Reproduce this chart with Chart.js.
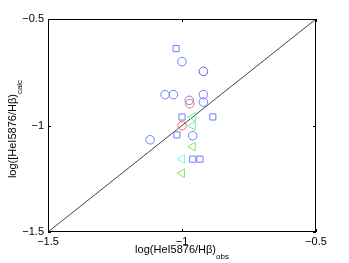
<!DOCTYPE html>
<html>
<head>
<meta charset="utf-8">
<script src="https://cdn.jsdelivr.net/npm/chart.js@4"></script>
<style>
  html, body { margin: 0; padding: 0; background: #fff; }
  #wrap { width: 349px; height: 263px; position: relative; }
</style>
</head>
<body>
<div id="wrap"><canvas id="chart" width="349" height="263"></canvas></div>
<script>
// ── Data ────────────────────────────────────────────────────────
const tickValues   = [-1.5, -1, -0.5];
const tickLabels   = ['\u22121.5', '\u22121', '\u22120.5'];
const diagonal     = [[-1.5, -1.5], [-0.5, -0.5]];

const circlesBlue   = [[-1.00, -0.700], [-1.063, -0.855], [-1.032, -0.855], [-0.920, -0.855],
                       [-0.920, -0.890], [-0.973, -0.882], [-0.960, -1.048], [-1.119, -1.067]];
const circlesPurple = [[-0.920, -0.746]];
const circlesRed    = [[-0.971, -0.898], [-1.000, -1.001]];
const squaresBlue   = [[-1.022, -0.639], [-1.000, -0.960], [-0.885, -0.960], [-1.019, -1.044],
                       [-0.960, -1.158], [-0.933, -1.158]];
const trianglesMint  = [[-0.960, -0.960], [-0.960, -1.001]];
const trianglesGreen = [[-0.960, -1.099], [-1.000, -1.224]];
const trianglesCyan  = [[-1.000, -1.158]];

const xTitle = 'log(HeI5876/H\u03b2)', xSub = 'obs';
const yTitle = 'log([HeI5876/H\u03b2)', ySub = 'calc';

const font = '"Liberation Sans", Arial, Helvetica, sans-serif';
const toPts = arr => arr.map(([x, y]) => ({ x, y }));

function marker(label, data, style, color, radius, rotation) {
    return {
        type: 'scatter',
        label,
        data: toPts(data),
        pointStyle: style,
        pointRadius: radius,
        pointRotation: rotation || 0,
        pointBorderColor: color,
        pointBackgroundColor: 'rgba(0,0,0,0)',
        pointBorderWidth: 1,
        showLine: false,
    };
}

// ── Box, inward ticks, axis titles ──────────────────────────────
const frame = {
    id: 'frame',
    afterDraw(chart) {
        const { ctx, chartArea: a, scales } = chart;
        ctx.save();
        ctx.strokeStyle = '#000';
        ctx.lineWidth = 1;
        ctx.strokeRect(a.left + 0.5, a.top + 0.5, a.right - a.left - 1, a.bottom - a.top - 1);
        ctx.beginPath();
        tickValues.forEach(v => {
            const px = Math.round(scales.x.getPixelForValue(v)) + 0.5;
            ctx.moveTo(px, a.bottom); ctx.lineTo(px, a.bottom - 3);
            ctx.moveTo(px, a.top);    ctx.lineTo(px, a.top + 3);
            const py = Math.round(scales.y.getPixelForValue(v)) + 0.5;
            ctx.moveTo(a.left, py);  ctx.lineTo(a.left + 3, py);
            ctx.moveTo(a.right, py); ctx.lineTo(a.right - 3, py);
        });
        ctx.stroke();

        ctx.fillStyle = '#000';
        ctx.textBaseline = 'alphabetic';
        // x title
        ctx.font = '11px ' + font;
        const w1 = ctx.measureText(xTitle).width;
        ctx.font = '8px ' + font;
        const w2 = ctx.measureText(xSub).width;
        let x0 = (a.left + a.right) / 2 - (w1 + w2) / 2;
        ctx.font = '11px ' + font;
        ctx.fillText(xTitle, x0, 253);
        ctx.font = '8px ' + font;
        ctx.fillText(xSub, x0 + w1, 259);
        // y title
        ctx.translate(16, 129);
        ctx.rotate(-Math.PI / 2);
        ctx.font = '11px ' + font;
        const v1 = ctx.measureText(yTitle).width;
        ctx.font = '8px ' + font;
        const v2 = ctx.measureText(ySub).width;
        const y0 = -(v1 + v2) / 2;
        ctx.font = '11px ' + font;
        ctx.fillText(yTitle, y0, 0);
        ctx.font = '8px ' + font;
        ctx.fillText(ySub, y0 + v1, 6);
        ctx.restore();
    }
};

const axisBase = {
    type: 'linear',
    min: -1.5,
    max: -0.5,
    grid: { display: false, drawTicks: false },
    border: { display: false },
    afterBuildTicks: s => { s.ticks = tickValues.map(v => ({ value: v })); },
};

new Chart(document.getElementById('chart'), {
    type: 'scatter',
    data: {
        datasets: [
            marker('red', circlesRed, 'circle', '#ff6a6a', 4.3),
            marker('purple', circlesPurple, 'circle', '#7358d8', 4.3),
            marker('blue', circlesBlue, 'circle', '#6f7dff', 4.3),
            marker('sq', squaresBlue, 'rect', '#6f7dff', 4.3),
            marker('mint', trianglesMint, 'triangle', '#6cf0a8', 5, -90),
            marker('green', trianglesGreen, 'triangle', '#8ee65a', 5, -90),
            marker('cyan', trianglesCyan, 'triangle', '#8cf5e6', 5, -90),
            {
                type: 'line',
                label: 'diag',
                data: toPts(diagonal),
                borderColor: '#444',
                borderWidth: 1,
                pointRadius: 0,
                fill: false,
            },
        ]
    },
    options: {
        responsive: false,
        animation: false,
        devicePixelRatio: 1,
        layout: { padding: { left: 0, top: 19, right: 33, bottom: 0 } },
        plugins: { legend: { display: false }, tooltip: { enabled: false } },
        scales: {
            x: {
                ...axisBase,
                position: 'bottom',
                ticks: { padding: 3, color: '#000', font: { size: 11, family: font }, maxRotation: 0,
                         autoSkip: false, callback: (v, i) => tickLabels[i] },
                afterFit: s => { s.height = 31; },
            },
            y: {
                ...axisBase,
                position: 'left',
                ticks: { padding: 4, color: '#000', font: { size: 11, family: font },
                         autoSkip: false, callback: (v, i) => tickLabels[i] },
                afterFit: s => { s.width = 48; },
            }
        }
    },
    plugins: [frame]
});
</script>
</body>
</html>
